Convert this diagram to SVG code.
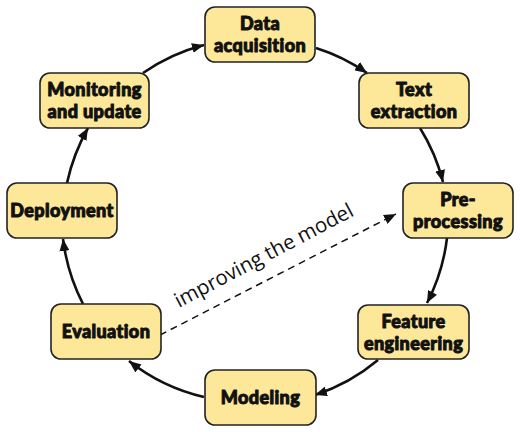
<svg xmlns="http://www.w3.org/2000/svg" width="520" height="432" viewBox="0 0 520 432">
<defs>
<style>
.box{fill:#fde89a;stroke:#222;stroke-width:1.6}
.lbl{font-family:Lato,"Liberation Sans",sans-serif;font-weight:900;font-size:18px;letter-spacing:0.4px;fill:#111;stroke:#111;stroke-width:1;stroke-linejoin:round;text-anchor:middle}
.arc{fill:none;stroke:#111;stroke-width:2.6}
.dash{fill:none;stroke:#111;stroke-width:1.5;stroke-dasharray:7 5}
.note{font-family:"Open Sans","Liberation Sans",sans-serif;font-size:20.5px;fill:#111}
</style>
<marker id="ah" viewBox="0 0 12 10" refX="12" refY="5" markerWidth="12" markerHeight="10" markerUnits="userSpaceOnUse" orient="auto">
<path d="M0,0 L12,5 L0,10 Z" fill="#111"/>
</marker>
<marker id="ahs" viewBox="0 0 12 10" refX="12" refY="5" markerWidth="12" markerHeight="10" markerUnits="userSpaceOnUse" orient="auto">
<path d="M0,0 L12,5 L0,10 Z" fill="#111"/>
</marker>
</defs>
<rect width="520" height="432" fill="#fff"/>
<g id="connectors">
<path class="arc" d="M143,73 A190,190 0 0 1 204,45" marker-end="url(#ah)"/>
<path class="arc" d="M316,48 A190,190 0 0 1 367,73" marker-end="url(#ah)"/>
<path class="arc" d="M420,128 A190,190 0 0 1 443,182" marker-end="url(#ah)"/>
<path class="arc" d="M447,238 A190,190 0 0 1 427,303" marker-end="url(#ah)"/>
<path class="arc" d="M378,360 A190,190 0 0 1 315,395" marker-end="url(#ah)"/>
<path class="arc" d="M204,397 A190,190 0 0 1 129,361" marker-end="url(#ah)"/>
<path class="arc" d="M83,304 A195,195 0 0 1 63,239" marker-end="url(#ah)"/>
<path class="arc" d="M67,183 A195,195 0 0 1 88,128" marker-end="url(#ah)"/>
<path class="dash" d="M160,335 L396,214" marker-end="url(#ahs)"/>
<text class="note" transform="translate(179,308) rotate(-27.8)">improving the model</text>
</g>
<g id="n-data"><rect class="box" x="205" y="7" width="110" height="55" rx="10"/><text class="lbl" x="260" y="30">Data</text><text class="lbl" x="260" y="52">acquisition</text></g>
<g id="n-text"><rect class="box" x="359" y="73" width="110" height="55" rx="10"/><text class="lbl" x="414" y="96">Text</text><text class="lbl" x="414" y="118">extraction</text></g>
<g id="n-pre"><rect class="box" x="403" y="183" width="110" height="55" rx="10"/><text class="lbl" x="458" y="206">Pre-</text><text class="lbl" x="458" y="228">processing</text></g>
<g id="n-feature"><rect class="box" x="358" y="305" width="111" height="54" rx="10"/><text class="lbl" x="413.5" y="327.5">Feature</text><text class="lbl" x="413.5" y="349.5">engineering</text></g>
<g id="n-modeling"><rect class="box" x="205" y="370" width="111" height="55" rx="10"/><text class="lbl" x="260.5" y="404">Modeling</text></g>
<g id="n-eval"><rect class="box" x="51" y="304" width="110" height="55" rx="10"/><text class="lbl" x="106" y="338">Evaluation</text></g>
<g id="n-deploy"><rect class="box" x="7" y="183" width="110" height="55" rx="10"/><text class="lbl" x="62" y="217">Deployment</text></g>
<g id="n-monitor"><rect class="box" x="40" y="73" width="109" height="55" rx="10"/><text class="lbl" x="94.5" y="96">Monitoring</text><text class="lbl" x="94.5" y="118">and update</text></g>
</svg>
